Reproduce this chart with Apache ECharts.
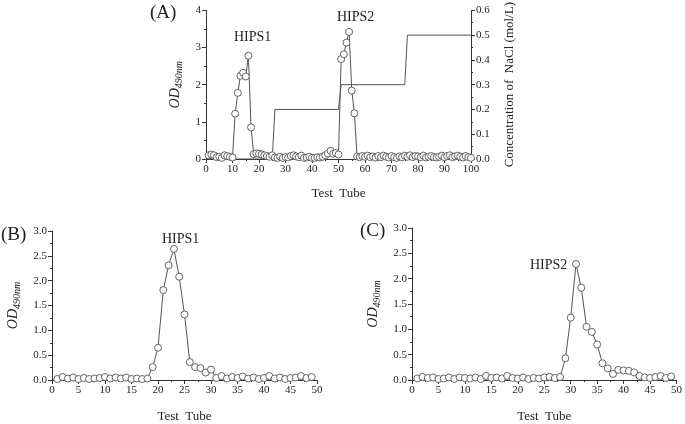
<!DOCTYPE html>
<html lang="en">

<head>
    <meta charset="UTF-8">
    <title>HIPS elution</title>
    <style>
        body { margin: 0; background: #fff; }
        #main { width: 685px; height: 424px; }
    </style>
</head>

<body>
    <div id="main"></div>
    <script src="https://cdn.jsdelivr.net/npm/echarts@6/dist/echarts.min.js"></script>
    <script>
        // (A) OD490 of tubes 1..100
        const odA = [
            0.10, 0.12, 0.10, 0.05, 0.06, 0.03, 0.10, 0.08, 0.06, 0.04,
            1.22, 1.78, 2.24, 2.32, 2.22, 2.78, 0.85, 0.13, 0.15, 0.14,
            0.12, 0.10, 0.08, 0.06, 0.10, 0.04, 0.03, 0.06, 0.03, 0.05,
            0.04, 0.08, 0.10, 0.07, 0.05, 0.09, 0.03, 0.04, 0.06, 0.03,
            0.03, 0.05, 0.04, 0.06, 0.10, 0.15, 0.22, 0.14, 0.16, 0.12,
            2.69, 2.82, 3.13, 3.42, 1.84, 1.23, 0.07, 0.05, 0.08, 0.06,
            0.09, 0.05, 0.07, 0.04, 0.08, 0.05, 0.09, 0.06, 0.04, 0.08,
            0.05, 0.03, 0.07, 0.05, 0.09, 0.06, 0.10, 0.05, 0.08, 0.07,
            0.05, 0.09, 0.04, 0.06, 0.08, 0.05, 0.04, 0.06, 0.09, 0.05,
            0.08, 0.10, 0.05, 0.07, 0.09, 0.06, 0.04, 0.08, 0.05, 0.03
        ]
        // NaCl gradient steps
        const naclTube = [0, 25, 26, 50, 51, 75, 76, 100]
        const naclConc = [0, 0, 0.2, 0.2, 0.3, 0.3, 0.5, 0.5]

        // (B) HIPS1 tubes 1..49
        const odB = [
            0.02, 0.06, 0.03, 0.05, 0.02, 0.04, 0.02, 0.03, 0.04, 0.06,
            0.03, 0.05, 0.03, 0.05, 0.02, 0.03, 0.02, 0.03, 0.26, 0.65,
            1.81, 2.31, 2.64, 2.08, 1.32, 0.36, 0.26, 0.24, 0.15, 0.21,
            0.04, 0.08, 0.03, 0.06, 0.04, 0.07, 0.03, 0.05, 0.02, 0.04,
            0.08, 0.03, 0.05, 0.02, 0.04, 0.05, 0.08, 0.04, 0.06
        ]
        // (C) HIPS2 tubes 1..49
        const odC = [
            0.03, 0.06, 0.04, 0.05, 0.02, 0.03, 0.05, 0.02, 0.05, 0.04,
            0.03, 0.05, 0.02, 0.08, 0.04, 0.05, 0.03, 0.08, 0.04, 0.03,
            0.05, 0.02, 0.04, 0.03, 0.05, 0.06, 0.04, 0.06, 0.43, 1.23,
            2.29, 1.82, 1.05, 0.95, 0.70, 0.33, 0.23, 0.12, 0.20, 0.19,
            0.18, 0.15, 0.08, 0.05, 0.04, 0.06, 0.08, 0.04, 0.07
        ]

        const FONT = 'Liberation Serif'
        const INK = '#222'

        const toPairs = arr => arr.map((v, i) => [i + 1, v])

        const axisCommon = {
            axisLine: { show: true, onZero: false, lineStyle: { color: '#333', width: 1 } },
            axisTick: { show: true, length: 4, lineStyle: { color: '#333' } },
            minorTick: { show: true, splitNumber: 2, length: 2, lineStyle: { color: '#333' } },
            splitLine: { show: false },
            axisLabel: { color: INK, fontFamily: FONT, fontSize: 11, margin: 5 },
            nameTextStyle: { color: INK, fontFamily: FONT, fontSize: 13, fontWeight: 'normal' }
        }

        // italic OD with a subscript 490nm
        const odName = {
            name: '{a|OD}{b|490nm}',
            nameLocation: 'middle',
            nameTextStyle: {
                fontWeight: 'normal',
                rich: {
                    a: { fontFamily: FONT, fontStyle: 'italic', fontWeight: 'normal', fontSize: 14, color: INK },
                    b: { fontFamily: FONT, fontStyle: 'italic', fontWeight: 'normal', fontSize: 10, color: INK, padding: [7, 0, 0, 0] }
                }
            }
        }

        function xAxis(grid, max, interval, gap) {
            return Object.assign({}, axisCommon, {
                type: 'value', gridIndex: grid, min: 0, max: max, interval: interval,
                name: 'Test  Tube', nameLocation: 'middle', nameGap: gap
            })
        }

        function odAxis(grid, max, interval, gap, digits) {
            return Object.assign({}, axisCommon, odName, {
                type: 'value', gridIndex: grid, min: 0, max: max, interval: interval, nameGap: gap,
                axisLabel: Object.assign({}, axisCommon.axisLabel, {
                    formatter: v => v.toFixed(digits)
                }),
                nameTextStyle: Object.assign({}, axisCommon.nameTextStyle, odName.nameTextStyle)
            })
        }

        const lineSeries = (xi, yi, data) => ({
            type: 'line',
            xAxisIndex: xi,
            yAxisIndex: yi,
            data: data,
            symbol: 'circle',
            symbolSize: 7,
            showAllSymbol: true,
            lineStyle: { color: '#555', width: 1 },
            itemStyle: { color: '#fff', borderColor: '#555', borderWidth: 0.9 },
            animation: false
        })

        const myChart = echarts.init(document.getElementById('main'))

        const option = {
            backgroundColor: '#fff',
            animation: false,
            grid: [
                { left: 206, top: 7, width: 265, height: 152 },
                { left: 52, top: 231, width: 265, height: 152 },
                { left: 412, top: 228, width: 265, height: 152 }
            ],
            xAxis: [
                xAxis(0, 100, 10, 28),
                xAxis(1, 50, 5, 30),
                xAxis(2, 50, 5, 30)
            ],
            yAxis: [
                odAxis(0, 4, 1, 22, 0),
                Object.assign({}, axisCommon, {
                    type: 'value', gridIndex: 0, position: 'right', min: 0, max: 0.6, interval: 0.1,
                    name: 'Concentration of  NaCl (mol/L)', nameLocation: 'middle', nameGap: 32,
                    axisLabel: Object.assign({}, axisCommon.axisLabel, { formatter: v => v.toFixed(1) })
                }),
                odAxis(1, 3, 0.5, 30, 1),
                odAxis(2, 3, 0.5, 30, 1)
            ],
            graphic: [
                { type: 'text', left: 150, top: 4, style: { text: '(A)', font: '19px "Liberation Serif"', fill: INK } },
                { type: 'text', left: 1, top: 226, style: { text: '(B)', font: '19px "Liberation Serif"', fill: INK } },
                { type: 'text', left: 360, top: 222, style: { text: '(C)', font: '19px "Liberation Serif"', fill: INK } },
                { type: 'text', left: 234, top: 30, style: { text: 'HIPS1', font: '14px "Liberation Serif"', fill: INK } },
                { type: 'text', left: 337, top: 10, style: { text: 'HIPS2', font: '14px "Liberation Serif"', fill: INK } },
                { type: 'text', left: 162, top: 232, style: { text: 'HIPS1', font: '14px "Liberation Serif"', fill: INK } },
                { type: 'text', left: 530, top: 258, style: { text: 'HIPS2', font: '14px "Liberation Serif"', fill: INK } }
            ],
            series: [
                lineSeries(0, 0, toPairs(odA)),
                {
                    type: 'line',
                    xAxisIndex: 0,
                    yAxisIndex: 1,
                    data: naclTube.map((t, i) => [t, naclConc[i]]),
                    symbol: 'none',
                    lineStyle: { color: '#555', width: 1 },
                    z: 1
                },
                lineSeries(1, 2, toPairs(odB)),
                lineSeries(2, 3, toPairs(odC))
            ]
        }

        myChart.setOption(option)
    </script>
</body>

</html>
